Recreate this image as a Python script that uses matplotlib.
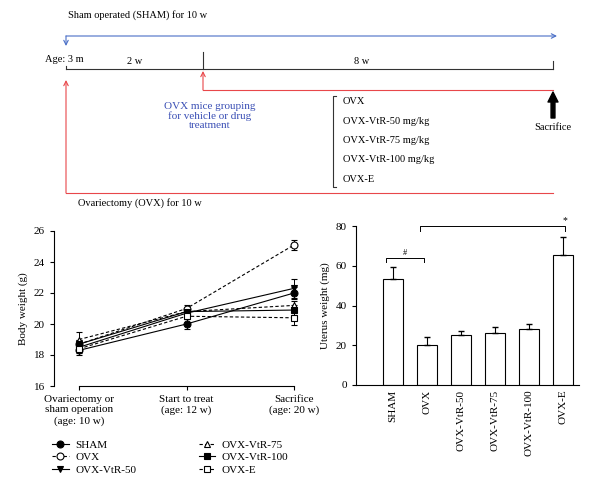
import matplotlib
matplotlib.use('Agg')
from matplotlib import pyplot as plt
from matplotlib.lines import Line2D
import numpy as np

plt.rcParams['font.family'] = ['Liberation Serif', 'DejaVu Serif']
plt.rcParams['font.size'] = 8

# body weight data
timeLabels = ['Ovariectomy or\nsham operation\n(age: 10 w)', 'Start to treat\n(age: 12 w)', 'Sacrifice\n(age: 20 w)']
groups = ['SHAM', 'OVX', 'OVX-VtR-50', 'OVX-VtR-75', 'OVX-VtR-100', 'OVX-E']
weightSHAM = [18.3, 20.0, 22.0]
weightOVX = [18.7, 21.0, 25.1]
weightVtR50 = [18.5, 20.7, 22.3]
weightVtR75 = [19.0, 20.8, 21.2]
weightVtR100 = [18.7, 20.8, 20.9]
weightE = [18.4, 20.5, 20.4]
errSHAM = [0.3, 0.3, 0.4]
errOVX = [0.3, 0.2, 0.35]
errVtR50 = [0.3, 0.3, 0.6]
errVtR75 = [0.5, 0.2, 0.3]
errVtR100 = [0.3, 0.2, 0.3]
errE = [0.3, 0.2, 0.45]

# uterus weight data
uterus = [53.5, 20.3, 25.2, 26.2, 28.3, 65.3]
uterusErr = [6.0, 4.0, 2.1, 2.8, 2.3, 9.2]

red = '#e8474a'
blue = '#4a6fc7'
blueText = '#3a4fb5'

fig = plt.figure(figsize=(6, 4.95), dpi=100)

# ---- top scheme, pixel coordinates ----
top = fig.add_axes([0, 0, 1, 1])
top.set_xlim(0, 600)
top.set_ylim(495, 0)
top.axis('off')

top.text(68, 15, 'Sham operated (SHAM) for 10 w', va='center', ha='left', fontsize=7.5)
top.annotate('', xy=(557, 36), xytext=(66, 36),
             arrowprops=dict(arrowstyle='->', color=blue, lw=0.8, shrinkA=0, shrinkB=0))
top.annotate('', xy=(66, 46), xytext=(66, 36),
             arrowprops=dict(arrowstyle='->', color=blue, lw=0.8, shrinkA=0, shrinkB=0))
top.text(45, 59, 'Age: 3 m', va='center', ha='left', fontsize=7.5)
top.plot([66, 553], [69, 69], color='#333333', lw=0.8)
top.plot([66, 66], [66, 69], color='#333333', lw=0.8)
top.plot([203, 203], [52, 69], color='#333333', lw=0.8)
top.plot([553, 553], [61, 69], color='#333333', lw=0.8)
top.text(135, 62, '2 w', va='center', ha='center', fontsize=7.5)
top.text(362, 62, '8 w', va='center', ha='center', fontsize=7.5)

top.annotate('', xy=(66, 80), xytext=(66, 193),
             arrowprops=dict(arrowstyle='->', color=red, lw=0.8, shrinkA=0, shrinkB=0))
top.plot([66, 553], [193, 193], color=red, lw=0.8)
top.text(78, 203, 'Ovariectomy (OVX) for 10 w', va='center', ha='left', fontsize=7.5)
top.annotate('', xy=(203, 71), xytext=(203, 90),
             arrowprops=dict(arrowstyle='->', color=red, lw=0.8, shrinkA=0, shrinkB=0))
top.plot([203, 553], [90, 90], color=red, lw=0.8)

top.text(210, 116, 'OVX mice grouping\nfor vehicle or drug\ntreatment', color=blueText,
         ha='center', va='center', linespacing=1.05)

top.plot([336, 333, 333, 336], [96, 96, 187, 187], color='#333333', lw=0.8)
for i, lab in enumerate(['OVX', 'OVX-VtR-50 mg/kg', 'OVX-VtR-75 mg/kg', 'OVX-VtR-100 mg/kg', 'OVX-E']):
    top.text(343, 102 + i * 19.3, lab, va='center', ha='left', fontsize=7.5)

top.annotate('', xy=(553, 92), xytext=(553, 118),
             arrowprops=dict(arrowstyle='simple,head_length=0.9,head_width=0.9,tail_width=0.35',
                             color='black', shrinkA=0, shrinkB=0))
top.text(553, 128, 'Sacrifice', ha='center', va='center', fontsize=7.5)

# ---- body weight plot ----
ax1 = fig.add_axes([54 / 600, 1 - 386 / 495, 246 / 600, 155 / 495])
x = np.arange(3)
series = [
    (weightSHAM, errSHAM, 'o', 'black', '-'),
    (weightOVX, errOVX, 'o', 'white', '--'),
    (weightVtR50, errVtR50, 'v', 'black', '-'),
    (weightVtR75, errVtR75, '^', 'white', '--'),
    (weightVtR100, errVtR100, 's', 'black', '-'),
    (weightE, errE, 's', 'white', '--'),
]
handles = []
for index in range(6):
    vals, errs, mk, fc, ls = series[index]
    dash = (3, 2) if ls == '--' else (None, None)
    ax1.errorbar(x, vals, yerr=errs, marker=mk, markersize=5, markerfacecolor=fc,
                 markeredgecolor='black', markeredgewidth=0.8, color='black',
                 linestyle=ls, linewidth=0.8, capsize=2, elinewidth=0.7, dashes=dash)
    handles.append(Line2D([], [], marker=mk, markersize=5, markerfacecolor=fc,
                          markeredgecolor='black', markeredgewidth=0.8, color='black',
                          linestyle=ls, linewidth=0.8, dashes=dash))

ax1.set_xlim(-0.233, 2.056)
ax1.set_ylim(16, 26)
ax1.set_yticks([16, 18, 20, 22, 24, 26])
ax1.set_xticks(x)
ax1.set_xticklabels(timeLabels)
ax1.set_ylabel('Body weight (g)')
ax1.spines['top'].set_visible(False)
ax1.spines['right'].set_visible(False)
ax1.spines['bottom'].set_bounds(0, 2)
ax1.tick_params(direction='out', length=3, width=0.8, labelsize=8)
ax1.patch.set_alpha(0)

fig.legend(handles=handles, labels=groups, ncol=2, loc='upper left',
           bbox_to_anchor=(42 / 600, 1 - 430 / 495), frameon=False, fontsize=8,
           handlelength=1.5, handletextpad=0.6, columnspacing=5.6, labelspacing=0.25)

# ---- uterus weight plot ----
ax2 = fig.add_axes([356 / 600, 1 - 385 / 495, 223 / 600, 159 / 495])
xb = np.arange(len(groups))
ax2.bar(xb, uterus, width=0.6, color='white', edgecolor='black', linewidth=0.8)
ax2.errorbar(xb, uterus, yerr=[np.zeros(len(uterusErr)), uterusErr], fmt='none',
             ecolor='black', elinewidth=0.8, capsize=2.5)
ax2.set_xlim(-1.09, 5.47)
ax2.set_ylim(0, 80)
ax2.set_yticks([0, 20, 40, 60, 80])
ax2.set_xticks(xb)
ax2.set_xticklabels(groups, rotation=90)
ax2.set_ylabel('Uterus weight (mg)')
ax2.spines['top'].set_visible(False)
ax2.spines['right'].set_visible(False)
ax2.tick_params(axis='y', direction='out', length=3, width=0.8, labelsize=8)
ax2.tick_params(axis='x', length=0, labelsize=8)
ax2.patch.set_alpha(0)

# significance brackets
ax2.plot([-0.2, -0.2, 0.9, 0.9], [62, 64, 64, 62], color='black', lw=0.7, clip_on=False)
ax2.text(0.35, 64.5, '#', ha='center', va='bottom', fontsize=6)
ax2.plot([0.8, 0.8, 5.05, 5.05], [77.5, 80, 80, 77.5], color='black', lw=0.7, clip_on=False)
ax2.text(5.05, 80.5, '*', ha='center', va='bottom', fontsize=7)

plt.savefig('out.png', dpi=100)
